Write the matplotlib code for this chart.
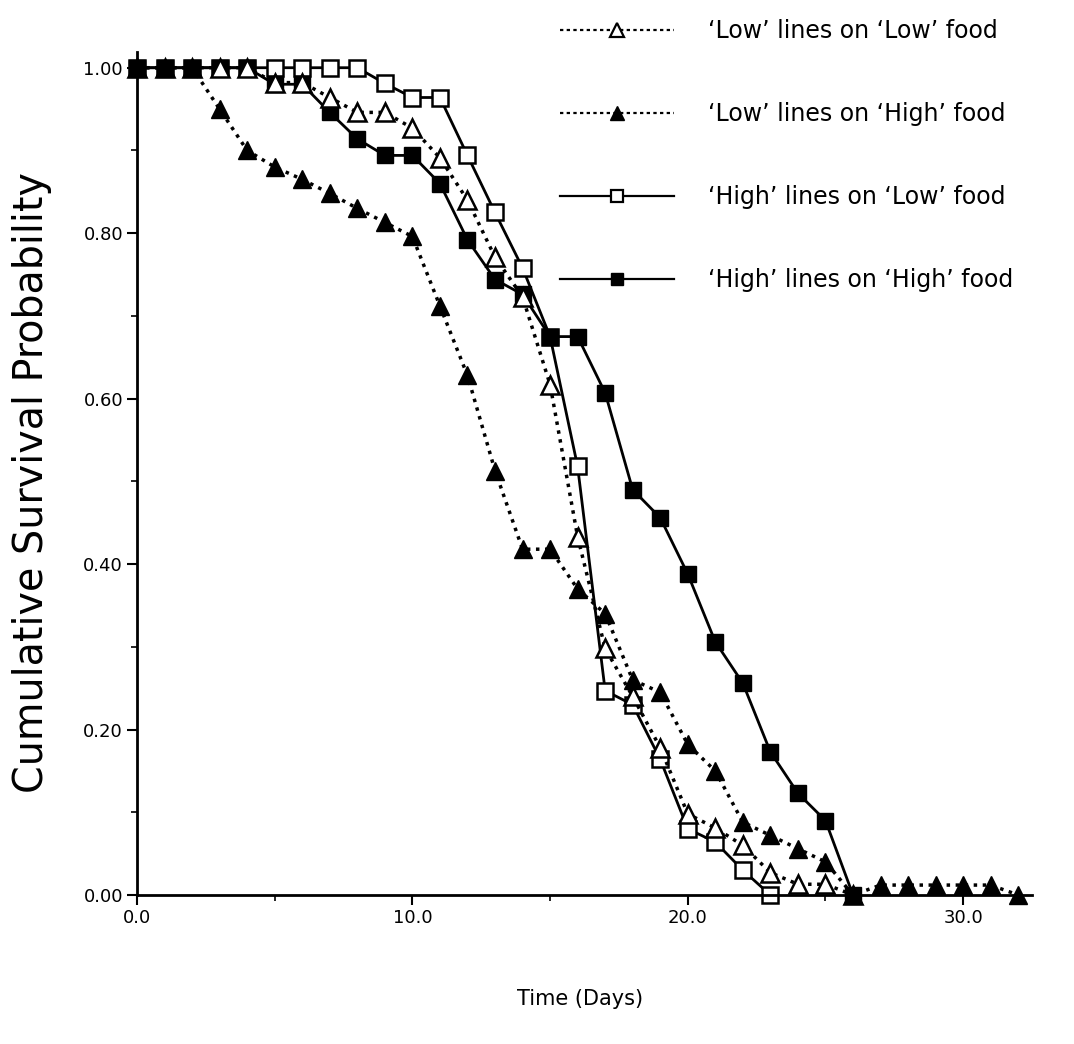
import numpy as np
import matplotlib
matplotlib.use("Agg")
import matplotlib.pyplot as plt
from matplotlib.lines import Line2D
from matplotlib.ticker import MultipleLocator, FormatStrFormatter

# survival values, one point per day
low_low = [1.0, 1.0, 1.0, 1.0, 1.0, 0.982, 0.982, 0.964, 0.946, 0.946, 0.927, 0.891, 0.84,
           0.771, 0.723, 0.617, 0.433, 0.298, 0.24, 0.178, 0.098, 0.081, 0.06, 0.027, 0.013,
           0.013, 0.0]
low_high = [1.0, 1.0, 1.0, 0.95, 0.90, 0.88, 0.865, 0.848, 0.83, 0.813, 0.796, 0.712, 0.628,
            0.513, 0.418, 0.418, 0.37, 0.34, 0.26, 0.245, 0.182, 0.15, 0.088, 0.072, 0.056,
            0.04, 0.0, 0.012, 0.012, 0.012, 0.012, 0.012, 0.0]
high_low = [1.0, 1.0, 1.0, 1.0, 1.0, 1.0, 1.0, 1.0, 1.0, 0.981, 0.964, 0.964, 0.894, 0.825,
            0.758, 0.675, 0.518, 0.247, 0.23, 0.164, 0.08, 0.064, 0.03, 0.0]
high_high = [1.0, 1.0, 1.0, 1.0, 1.0, 0.98, 0.98, 0.946, 0.914, 0.894, 0.894, 0.86, 0.792,
             0.744, 0.726, 0.675, 0.675, 0.607, 0.49, 0.456, 0.388, 0.306, 0.256, 0.173,
             0.123, 0.09, 0.0]

labels = ["\u2018Low\u2019 lines on \u2018Low\u2019 food",
          "\u2018Low\u2019 lines on \u2018High\u2019 food",
          "\u2018High\u2019 lines on \u2018Low\u2019 food",
          "\u2018High\u2019 lines on \u2018High\u2019 food"]

fig = plt.figure(figsize=(10.74, 10.44), dpi=100)
ax = fig.add_axes([137 / 1074, 1 - 895 / 1044, (1032 - 137) / 1074, (895 - 52) / 1044])

dots = (0, (1, 1.6))
ax.plot(np.arange(len(high_low)), high_low, color="black", lw=2, marker="s", ms=11,
        mfc="white", mec="black", mew=1.8, clip_on=False)
ax.plot(np.arange(len(high_high)), high_high, color="black", lw=2, marker="s", ms=11,
        mfc="black", mec="black", clip_on=False)
ax.plot(np.arange(len(low_low)), low_low, color="black", lw=2.5, ls=dots, marker="^",
        ms=13, mfc="white", mec="black", mew=1.8, clip_on=False)
ax.plot(np.arange(len(low_high)), low_high, color="black", lw=2.5, ls=dots, marker="^",
        ms=13, mfc="black", mec="black", clip_on=False)

ax.set_xlim(0, 32.5)
ax.set_ylim(0, 1.019)
ax.spines["top"].set_visible(False)
ax.spines["right"].set_visible(False)
ax.spines["left"].set_linewidth(2)
ax.spines["bottom"].set_linewidth(2)

ax.xaxis.set_major_locator(MultipleLocator(10))
ax.xaxis.set_minor_locator(MultipleLocator(5))
ax.xaxis.set_major_formatter(FormatStrFormatter("%.1f"))
ax.yaxis.set_major_locator(MultipleLocator(0.2))
ax.yaxis.set_minor_locator(MultipleLocator(0.1))
ax.yaxis.set_major_formatter(FormatStrFormatter("%.2f"))
ax.tick_params(which="major", length=7, width=1.5, labelsize=13, pad=3)
ax.tick_params(which="minor", length=4, width=1.2)

ax.set_ylabel("Cumulative Survival Probability", fontsize=28.5)
ax.yaxis.set_label_coords(-0.0955, 0.489)
ax.set_xlabel("Time (Days)", fontsize=15)
ax.xaxis.set_label_coords(0.495, -0.112)

# legend keys are drawn thinner than the data lines
handles = [
    Line2D([], [], color="black", lw=1.6, ls=(0, (1.5, 1.5)), marker="^", ms=10, mfc="white", mew=1.6),
    Line2D([], [], color="black", lw=1.6, ls=(0, (1.5, 1.5)), marker="^", ms=10, mfc="black"),
    Line2D([], [], color="black", lw=1.6, marker="s", ms=9, mfc="white", mew=1.6),
    Line2D([], [], color="black", lw=1.6, marker="s", ms=9, mfc="black"),
]
fig.legend(handles=handles, labels=labels, loc="upper left", bbox_to_anchor=(560 / 1074, 1 - 19 / 1044),
           frameon=False, fontsize=17, handlelength=4.83, handletextpad=1.44, labelspacing=2.5,
           borderpad=0, borderaxespad=0, numpoints=1)

fig.savefig("out.png", dpi=100)
